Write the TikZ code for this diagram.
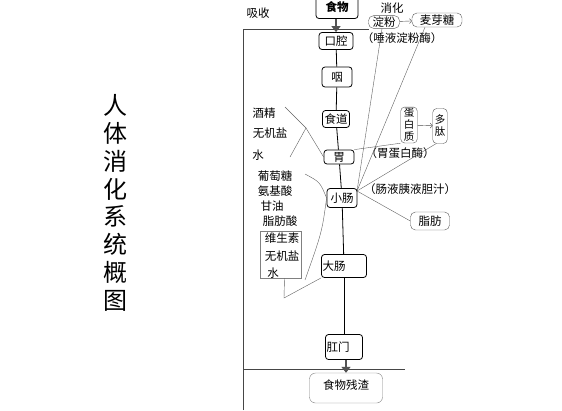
\documentclass[tikz,border=0pt]{standalone}
\usepackage{fontspec}
\setmainfont{Noto Sans CJK SC}
\usetikzlibrary{arrows.meta}
\begin{document}
\begin{tikzpicture}[x=1pt,y=-1pt]
    \tikzstyle{organ}=[draw=black,thick,rounded corners=3pt,inner sep=1pt,font=\fontsize{11.5}{13}\selectfont]
    \tikzstyle{nutrient}=[draw=gray!70!black,rounded corners=5pt,inner sep=1pt,font=\fontsize{11.5}{13}\selectfont]
    \tikzstyle{word}=[inner sep=0pt,font=\fontsize{11.5}{13}\selectfont]
    \tikzstyle{link}=[gray!75!black,thin]
    \tikzstyle{frame}=[gray!55!black,semithick]
    \tikzstyle{flow}=[gray!65!black,line width=2.6pt,-{Triangle[length=6pt,width=9pt]}]

    \useasboundingbox (0,0) rectangle (562,410);
    \clip (0,0) rectangle (562,410);

    % title
    \node[font=\fontsize{24}{27.8}\selectfont,align=center,inner sep=0pt] at (115,203) (title) {人\\体\\消\\化\\系\\统\\概\\图};

    % frame
    \coordinate (ltop) at (243,29);
    \coordinate (lbot) at (243,410);
    \coordinate (rtop) at (369,29);
    \coordinate (lmid) at (243,369);
    \coordinate (rmid) at (405,369);
    \draw[frame] (lbot) -- (ltop) -- (rtop);
    \draw[frame] (lmid) -- (rmid);
    \node[word] at (258,13) (absorb) {吸收};
    \node[word] at (392,8) (digest) {消化};

    % canal
    \node[organ,font=\bfseries\fontsize{11.5}{13}\selectfont,minimum width=42pt,minimum height=25pt,text depth=-4pt] at (337,6) (food) {食物};
    \node[organ,minimum width=34pt,minimum height=17pt] at (336,41) (mouth) {口腔};
    \node[organ,minimum width=30pt,minimum height=20pt] at (337,77) (pharynx) {咽};
    \node[organ,minimum width=27pt,minimum height=17pt] at (336,119) (gullet) {食道};
    \node[organ,minimum width=30pt,minimum height=14pt] at (339,157) (stomach) {胃};
    \node[organ,minimum width=30pt,minimum height=19pt] at (342,198) (small) {小肠};
    \node[organ,text width=43pt,align=left,minimum height=23pt] at (344,266) (large) {大肠};
    \node[organ,text width=35pt,align=left,minimum height=25pt] at (344,347) (anus) {肛门};
    \node[draw=gray,rounded corners=6pt,minimum width=73pt,minimum height=30pt,font=\fontsize{11.5}{13}\selectfont,text depth=6pt] at (346,388) (waste) {食物残渣};

    \draw[flow] (food.south -| mouth) -- (mouth);
    \draw[thick] (mouth) -- (pharynx);
    \draw[thick] (pharynx) -- (gullet);
    \draw[thick] (gullet) -- (stomach);
    \draw[thick] (stomach) -- (small);
    \draw[thick] (small) -- (large);
    \draw[thick] (large) -- (anus);
    \draw[flow] (anus.south -| waste) -- (waste);

    % digestion
    \node[nutrient,minimum width=31pt,minimum height=12pt] at (384,22) (starch) {淀粉};
    \node[nutrient,minimum width=50pt,minimum height=14pt] at (437,20) (maltose) {麦芽糖};
    \node[nutrient,align=center,inner xsep=3pt,rounded corners=4pt,font=\fontsize{10.5}{12}\selectfont,minimum height=36pt] at (409,125) (protein) {蛋\\白\\质};
    \node[nutrient,align=center,inner xsep=2pt,rounded corners=4pt,font=\fontsize{10.5}{12}\selectfont,minimum height=35pt] at (440,126) (peptide) {多\\肽};
    \node[nutrient,minimum width=39pt,minimum height=18pt] at (430,221) (fat) {脂肪};
    \node[word] at (402,38) (saliva) {（唾液淀粉酶）};
    \node[word] at (400,153) (pepsin) {（胃蛋白酶）};
    \node[word] at (410,189) (juice) {（肠液胰液胆汁）};

    \draw[->,gray!60!black] (starch) -- (maltose);
    \draw[->,gray!60!black] (protein) -- (peptide);

    \coordinate (conv) at (357,191);
    \draw[link] ([xshift=-2pt]starch.south) -- (conv);
    \draw[link] ([xshift=-12pt]maltose.south) -- (conv);
    \draw[link] ([xshift=-4pt]peptide.south) -- (conv);
    \draw[link] (fat.west) -- (conv);
    \draw[link] (protein.south west) -- (stomach.north east);

    % absorption
    \node[word] at (264,113) (alcohol) {酒精};
    \node[word] at (270,133) (salt) {无机盐};
    \node[word] at (258,155) (water) {水};
    \coordinate (b1top) at (285,107);
    \coordinate (b1mid) at (306,128);
    \coordinate (b1bot) at (290,157);
    \draw[link] (b1top) -- (b1mid) -- (b1bot);
    \draw[link] (b1mid) -- (stomach.west);

    \node[word] at (275,176) (glucose) {葡萄糖};
    \node[word] at (275,191) (amino) {氨基酸};
    \node[word] at (272,206) (glycerol) {甘油};
    \node[word] at (280,221) (fatacid) {脂肪酸};
    \node[draw=gray,minimum width=41pt,minimum height=47pt] at (280.5,254.5) (vitbox) {};
    \node[word] at (282,238) (vitamin) {维生素};
    \node[word] at (282,256) (salt2) {无机盐};
    \node[word] at (273,273) (water2) {水};
    \coordinate (b2top) at (305,174);
    \coordinate (b2bot) at (305,280);
    \coordinate (elbow) at (284,298);
    \draw[link] (b2top) .. controls (320,182) .. (small.west) .. controls (322,232) .. (b2bot);
    \draw[link] ([xshift=4pt]vitbox.south) -- (elbow) -- (large.south west);
\end{tikzpicture}
\end{document}
